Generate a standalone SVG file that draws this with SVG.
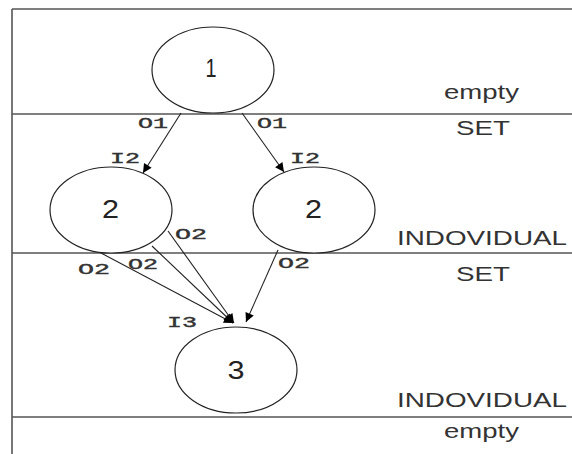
<svg xmlns="http://www.w3.org/2000/svg" width="572" height="454" viewBox="0 0 572 454">
<style>
.frame{stroke:#555;stroke-width:1.6;fill:none}
.node{fill:#fff;stroke:#222;stroke-width:1.2}
.num{font-family:"Liberation Sans",Arial,sans-serif;font-size:25px;fill:#222;text-anchor:middle}
.lbl{font-family:"Liberation Sans",Arial,sans-serif;font-size:20px;fill:#333}
.port{font-family:"Liberation Mono","Courier New",monospace;font-size:15px;fill:#333;stroke:#333;stroke-width:0.4}
.edge{stroke:#222;stroke-width:1.1;fill:none;marker-end:url(#ah)}
</style>
<defs>
<marker id="ah" viewBox="0 0 10 10" refX="10" refY="5" markerWidth="12" markerHeight="9" markerUnits="userSpaceOnUse" orient="auto">
<path d="M0,0 L10,5 L0,10 Z" fill="#000"/>
</marker>
</defs>
<rect width="572" height="454" fill="#fff"/>
<g id="frame">
<line class="frame" x1="12" y1="9" x2="572" y2="9"/>
<line class="frame" x1="12" y1="9" x2="12" y2="454"/>
<line class="frame" x1="12" y1="114" x2="572" y2="114"/>
<line class="frame" x1="12" y1="253" x2="572" y2="253"/>
<line class="frame" x1="12" y1="417" x2="572" y2="417"/>
</g>
<g id="lane-labels">
<text class="lbl" x="444" y="99" textLength="75" lengthAdjust="spacingAndGlyphs">empty</text>
<text class="lbl" x="456" y="135" textLength="54" lengthAdjust="spacingAndGlyphs">SET</text>
<text class="lbl" x="397" y="245" textLength="170" lengthAdjust="spacingAndGlyphs">INDOVIDUAL</text>
<text class="lbl" x="456" y="281" textLength="54" lengthAdjust="spacingAndGlyphs">SET</text>
<text class="lbl" x="397" y="407" textLength="170" lengthAdjust="spacingAndGlyphs">INDOVIDUAL</text>
<text class="lbl" x="444" y="438" textLength="75" lengthAdjust="spacingAndGlyphs">empty</text>
</g>
<g id="connectors">
<line class="edge" x1="181" y1="113" x2="143" y2="173"/>
<line class="edge" x1="242" y1="113" x2="284" y2="172"/>
<line class="edge" x1="101" y1="253" x2="233" y2="323"/>
<line class="edge" x1="152" y1="246" x2="233" y2="323"/>
<line class="edge" x1="168" y1="231" x2="234" y2="323"/>
<line class="edge" x1="278" y1="250" x2="246" y2="322"/>
</g>
<g id="node1">
<ellipse class="node" cx="213" cy="70" rx="61" ry="43"/>
<text class="num" x="211" y="77" textLength="11" lengthAdjust="spacingAndGlyphs">1</text>
</g>
<g id="node2a">
<ellipse class="node" cx="111" cy="210" rx="61" ry="43"/>
<text class="num" x="110.5" y="218" textLength="17" lengthAdjust="spacingAndGlyphs">2</text>
</g>
<g id="node2b">
<ellipse class="node" cx="314" cy="210" rx="61" ry="43"/>
<text class="num" x="313.5" y="218" textLength="17" lengthAdjust="spacingAndGlyphs">2</text>
</g>
<g id="node3">
<ellipse class="node" cx="236" cy="370" rx="61" ry="43"/>
<text class="num" x="236" y="379" textLength="17" lengthAdjust="spacingAndGlyphs">3</text>
</g>
<g id="port-labels">
<text class="port" x="138" y="128" textLength="30" lengthAdjust="spacingAndGlyphs">O1</text>
<text class="port" x="257" y="128" textLength="30" lengthAdjust="spacingAndGlyphs">O1</text>
<text class="port" x="110" y="163" textLength="30" lengthAdjust="spacingAndGlyphs">I2</text>
<text class="port" x="290" y="163" textLength="30" lengthAdjust="spacingAndGlyphs">I2</text>
<text class="port" x="175" y="239" textLength="32" lengthAdjust="spacingAndGlyphs">O2</text>
<text class="port" x="128" y="269" textLength="30" lengthAdjust="spacingAndGlyphs">O2</text>
<text class="port" x="78" y="274" textLength="32" lengthAdjust="spacingAndGlyphs">O2</text>
<text class="port" x="278" y="268" textLength="32" lengthAdjust="spacingAndGlyphs">O2</text>
<text class="port" x="167" y="327" textLength="30" lengthAdjust="spacingAndGlyphs">I3</text>
</g>
</svg>
